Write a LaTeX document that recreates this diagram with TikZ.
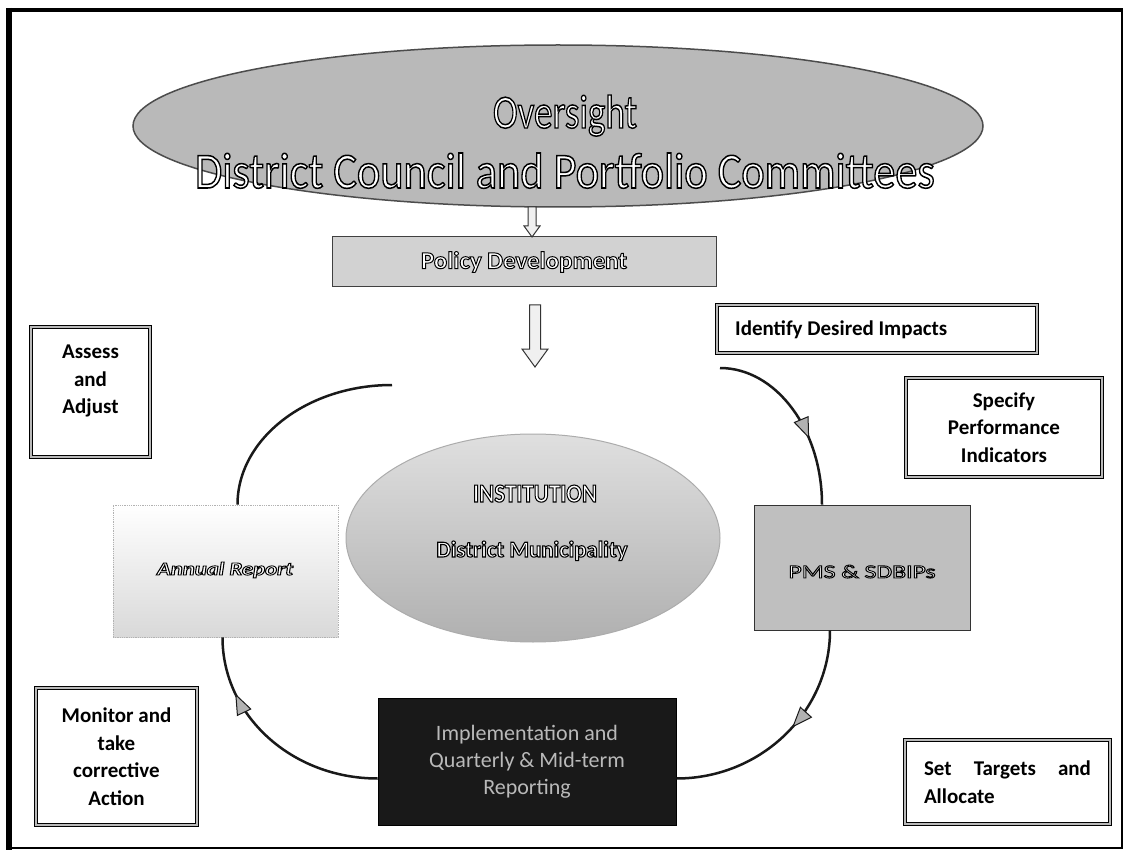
\documentclass[tikz,border=0pt]{standalone}
\usepackage{fontspec}
\setmainfont{Carlito}
\usetikzlibrary{shapes.geometric,arrows.meta,decorations.markings,calc}

\newcommand{\outl}[2][0.8]{\special{pdf:literal direct 1 g 0 G #1 w 2 Tr}#2\special{pdf:literal direct 0 Tr}}
\newcommand{\fs}[1]{\fontsize{#1}{#1}\selectfont}

\begin{document}
\begin{tikzpicture}[x=1pt,y=-1pt,
  lbl/.style={rectangle, draw=black, double=gray!55, double distance=2pt, line width=0.7pt, fill=white, inner sep=0pt},
  lbltext/.style={font=\fontsize{21}{27.5}\selectfont\bfseries, align=center, inner sep=0pt},
  conn/.style={line width=2.5pt, draw=black!90},
  midarrow/.style={postaction={decorate}, decoration={markings, mark=at position #1 with {\arrow{Triangle[length=21pt,width=16pt,line width=1pt,fill=gray!60]}}}},
  blk/.style={draw=black!80, fill=gray!12, line width=1pt, line join=miter},
  ot/.style={inner sep=0pt, text=white}]
\useasboundingbox (0,0) rectangle (1128,853);
\fill[white] (0,0) rectangle (1128,853);

% frame
\draw[line width=2pt] (8,10) rectangle (1122,848);
\draw[line width=6pt] (9,8) -- (9,850);
\draw[line width=3.5pt] (8,10) -- (1123,10);

% top oversight ellipse
\node[ellipse, minimum width=850pt, minimum height=162pt, fill=gray!55, draw=black!70, line width=1.5pt, inner sep=0pt] (over) at (558,126) {};
\node[ot, anchor=base] (ovt1) at (565,128) {\resizebox{144pt}{33pt}{\fs{48}\outl[1.5]{Oversight}}};
\node[ot, anchor=base] (ovt2) at (565,188) {\resizebox{740pt}{35pt}{\fs{50}\outl[1.5]{District Council and Portfolio Committees}}};

% policy development
\node[rectangle, minimum width=384pt, minimum height=50pt, fill=gray!35, draw=gray!50!black, line width=1pt] (policy) at (524,262) {};
\node[ot] (polt) at (524,262) {\resizebox{206pt}{17pt}{\fs{25}\bfseries\outl[1]{Policy Development}}};

% block arrows
\coordinate (a1s) at (532,207);
\coordinate (a1e) at (532,237);
\draw[blk] ($(a1s)+(-4,0)$) -- ($(a1s)+(-4,19)$) -- ($(a1s)+(-8,19)$) -- (a1e) -- ($(a1s)+(8,19)$) -- ($(a1s)+(4,19)$) -- ($(a1s)+(4,0)$) -- cycle;
\coordinate (a2s) at (535,305);
\coordinate (a2e) at (535,367);
\draw[blk] ($(a2s)+(-5.5,0)$) -- ($(a2s)+(-5.5,44)$) -- ($(a2s)+(-13,44)$) -- (a2e) -- ($(a2s)+(13,44)$) -- ($(a2s)+(5.5,44)$) -- ($(a2s)+(5.5,0)$) -- cycle;

% label boxes
\node[lbl, minimum width=119pt, minimum height=130pt] (assess) at (90.5,392) {};
\node[lbltext] (assesst) at (90.5,381) {Assess\\and\\Adjust};
\node[lbl, minimum width=320pt, minimum height=48pt] (identify) at (877,329) {};
\node[lbltext, anchor=west] (identifyt) at (735,330) {Identify Desired Impacts};
\node[lbl, lbltext, minimum width=196pt, minimum height=99pt] (specify) at (1004,427.5) {Specify\\Performance\\Indicators};
\node[lbl, lbltext, minimum width=161pt, minimum height=137pt] (monitor) at (116.5,756.5) {Monitor and\\take\\corrective\\Action};
\node[lbl, lbltext, align=left, minimum width=205pt, minimum height=84pt] (settarget) at (1007.5,782) {\makebox[167pt][s]{Set Targets and}\\Allocate};

% institution ellipse
\node[ellipse, minimum width=374pt, minimum height=208pt, top color=gray!25, bottom color=gray!62, draw=gray!65, line width=1pt, inner sep=0pt] (inst) at (533,538) {};
\node[ot, anchor=base] (instt1) at (535,502) {\resizebox{124pt}{17pt}{\fs{26}\bfseries\outl[1.1]{INSTITUTION}}};
\node[ot, anchor=base] (instt2) at (532,557) {\resizebox{191pt}{16pt}{\fs{23}\bfseries\outl[1.1]{District Municipality}}};

% annual report
\node[rectangle, minimum width=225pt, minimum height=132pt, top color=white, bottom color=gray!30, draw=gray!60, densely dotted, line width=0.8pt] (annual) at (225.5,571) {};
\node[ot, anchor=base] (annualt) at (225,575) {\resizebox{136pt}{13pt}{\fs{19}\bfseries\itshape\outl[0.9]{Annual Report}}};

% PMS
\node[rectangle, minimum width=216pt, minimum height=125pt, fill=gray!50, draw=gray!40!black, line width=0.8pt] (pms) at (862,567.5) {};
\node[ot, anchor=base] (pmst) at (862,578) {\resizebox{147pt}{13pt}{\fs{20}\outl[0.9]{PMS \& SDBIPs}}};

% implementation
\node[rectangle, minimum width=298pt, minimum height=127pt, fill=black!90, draw=black, line width=0.8pt, text=gray!55, font=\fontsize{22}{27}\selectfont, align=center] (impl) at (527,761.5) {Implementation and\\Quarterly \& Mid-term\\Reporting};

% cycle connectors
\coordinate (lstart) at (392,385);
\draw[conn] (lstart) .. controls (307,385) and ([xshift=12pt,yshift=66pt]annual.north) .. ([xshift=12pt]annual.north);
\draw[conn, midarrow=0.75] ([yshift=-17pt]impl.west) .. controls ([xshift=-86pt,yshift=-17pt]impl.west) and ([xshift=-3pt,yshift=-78pt]annual.south) .. ([xshift=-3pt]annual.south);
\coordinate (rstart) at (720,368);
\draw[conn, midarrow=0.64] (rstart) .. controls (776,368) and ([xshift=-40pt,yshift=75pt]pms.north) .. ([xshift=-40pt]pms.north);
\draw[conn, midarrow=0.45] ([xshift=-32pt]pms.south) .. controls ([xshift=-32pt,yshift=-81pt]pms.south) and ([xshift=85pt,yshift=-17pt]impl.east) .. ([yshift=-17pt]impl.east);
\end{tikzpicture}
\end{document}
